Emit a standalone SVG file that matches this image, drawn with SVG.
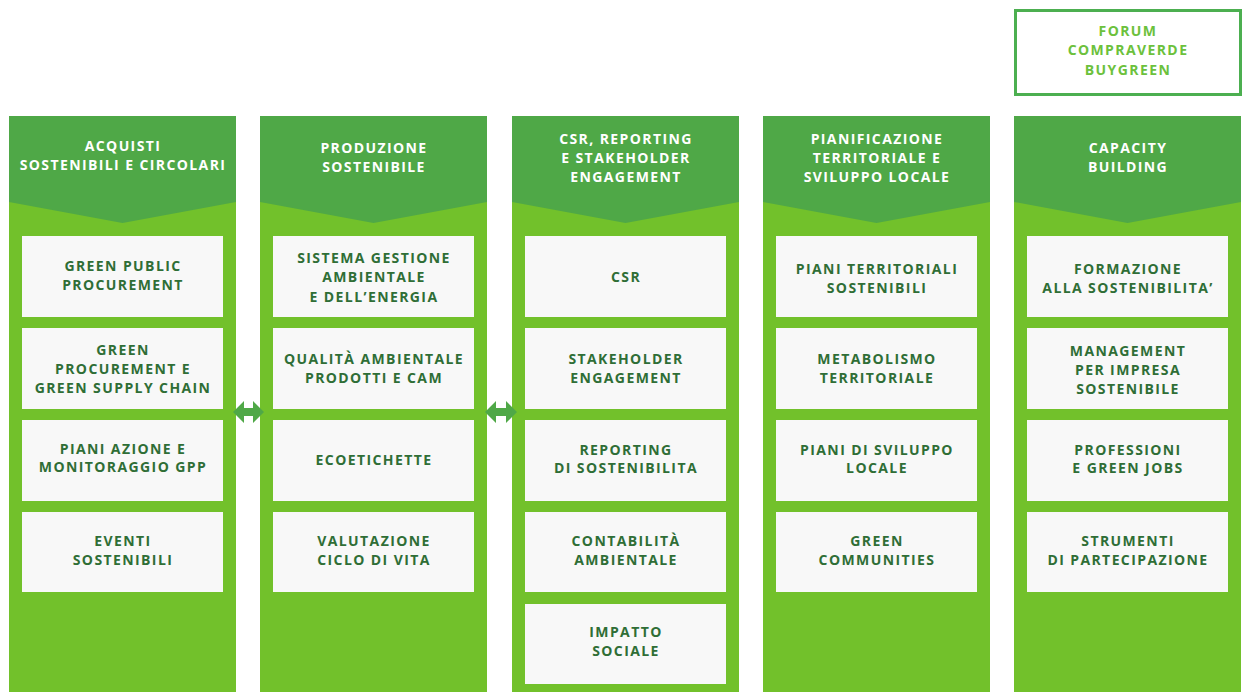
<svg xmlns="http://www.w3.org/2000/svg" width="1242" height="692" viewBox="0 0 1242 692">
<style>
.body{fill:#72c12b}
.head{fill:#4fa847}
.card{fill:#f8f8f8}
.ht{font-family:"Open Sans","Noto Sans",sans-serif;font-weight:700;font-size:14px;fill:#ffffff;text-anchor:middle;letter-spacing:1.4px}
.ct{font-family:"Open Sans","Noto Sans",sans-serif;font-weight:700;font-size:14px;fill:#2f6e36;text-anchor:middle;letter-spacing:1.4px}
.ft{font-family:"Open Sans","Noto Sans",sans-serif;font-weight:700;font-size:14px;fill:#6cc13c;text-anchor:middle;letter-spacing:1.4px}
.arr{fill:#4fa847}
</style>
<rect width="1242" height="692" fill="#ffffff"/>

<g id="forum">
<rect x="1015.5" y="10.5" width="225" height="84" fill="#ffffff" stroke="#4caf50" stroke-width="3"/>
<text class="ft" x="1128" y="36">FORUM</text>
<text class="ft" x="1128" y="55">COMPRAVERDE</text>
<text class="ft" x="1128" y="75">BUYGREEN</text>
</g>

<g id="col1">
<rect class="body" x="9" y="116" width="227" height="576"/>
<polygon class="head" points="9,116 236,116 236,202 122.5,223 9,202"/>
<text class="ht" x="123" y="151">ACQUISTI</text>
<text class="ht" x="123" y="170">SOSTENIBILI E CIRCOLARI</text>
<rect class="card" x="22" y="236" width="201" height="81"/>
<text class="ct" x="123" y="271">GREEN PUBLIC</text>
<text class="ct" x="123" y="290">PROCUREMENT</text>
<rect class="card" x="22" y="328" width="201" height="81"/>
<text class="ct" x="123" y="355">GREEN</text>
<text class="ct" x="123" y="374">PROCUREMENT E</text>
<text class="ct" x="123" y="393">GREEN SUPPLY CHAIN</text>
<rect class="card" x="22" y="420" width="201" height="81"/>
<text class="ct" x="123" y="454">PIANI AZIONE E</text>
<text class="ct" x="123" y="472">MONITORAGGIO GPP</text>
<rect class="card" x="22" y="512" width="201" height="80"/>
<text class="ct" x="123" y="546">EVENTI</text>
<text class="ct" x="123" y="565">SOSTENIBILI</text>
</g>

<g id="col2">
<rect class="body" x="260" y="116" width="227" height="576"/>
<polygon class="head" points="260,116 487,116 487,202 373.5,223 260,202"/>
<text class="ht" x="374" y="153">PRODUZIONE</text>
<text class="ht" x="374" y="172">SOSTENIBILE</text>
<rect class="card" x="273" y="236" width="201" height="81"/>
<text class="ct" x="374" y="263">SISTEMA GESTIONE</text>
<text class="ct" x="374" y="282">AMBIENTALE</text>
<text class="ct" x="374" y="302">E DELL’ENERGIA</text>
<rect class="card" x="273" y="328" width="201" height="81"/>
<text class="ct" x="374" y="364">QUALITÀ AMBIENTALE</text>
<text class="ct" x="374" y="383">PRODOTTI E CAM</text>
<rect class="card" x="273" y="420" width="201" height="81"/>
<text class="ct" x="374" y="465">ECOETICHETTE</text>
<rect class="card" x="273" y="512" width="201" height="80"/>
<text class="ct" x="374" y="546">VALUTAZIONE</text>
<text class="ct" x="374" y="565">CICLO DI VITA</text>
</g>

<g id="col3">
<rect class="body" x="512" y="116" width="227" height="576"/>
<polygon class="head" points="512,116 739,116 739,202 625.5,223 512,202"/>
<text class="ht" x="626" y="144">CSR, REPORTING</text>
<text class="ht" x="626" y="163">E STAKEHOLDER</text>
<text class="ht" x="626" y="182">ENGAGEMENT</text>
<rect class="card" x="525" y="236" width="201" height="81"/>
<text class="ct" x="626" y="282">CSR</text>
<rect class="card" x="525" y="328" width="201" height="81"/>
<text class="ct" x="626" y="364">STAKEHOLDER</text>
<text class="ct" x="626" y="383">ENGAGEMENT</text>
<rect class="card" x="525" y="420" width="201" height="81"/>
<text class="ct" x="626" y="455">REPORTING</text>
<text class="ct" x="626" y="473">DI SOSTENIBILITA</text>
<rect class="card" x="525" y="512" width="201" height="80"/>
<text class="ct" x="626" y="546">CONTABILITÀ</text>
<text class="ct" x="626" y="565">AMBIENTALE</text>
<rect class="card" x="525" y="604" width="201" height="80"/>
<text class="ct" x="626" y="637">IMPATTO</text>
<text class="ct" x="626" y="656">SOCIALE</text>
</g>

<g id="col4">
<rect class="body" x="763" y="116" width="227" height="576"/>
<polygon class="head" points="763,116 990,116 990,202 876.5,223 763,202"/>
<text class="ht" x="877" y="144">PIANIFICAZIONE</text>
<text class="ht" x="877" y="163">TERRITORIALE E</text>
<text class="ht" x="877" y="182">SVILUPPO LOCALE</text>
<rect class="card" x="776" y="236" width="201" height="81"/>
<text class="ct" x="877" y="274">PIANI TERRITORIALI</text>
<text class="ct" x="877" y="293">SOSTENIBILI</text>
<rect class="card" x="776" y="328" width="201" height="81"/>
<text class="ct" x="877" y="364">METABOLISMO</text>
<text class="ct" x="877" y="383">TERRITORIALE</text>
<rect class="card" x="776" y="420" width="201" height="81"/>
<text class="ct" x="877" y="455">PIANI DI SVILUPPO</text>
<text class="ct" x="877" y="473">LOCALE</text>
<rect class="card" x="776" y="512" width="201" height="80"/>
<text class="ct" x="877" y="546">GREEN</text>
<text class="ct" x="877" y="565">COMMUNITIES</text>
</g>

<g id="col5">
<rect class="body" x="1014" y="116" width="227" height="576"/>
<polygon class="head" points="1014,116 1241,116 1241,202 1127.5,223 1014,202"/>
<text class="ht" x="1128" y="153">CAPACITY</text>
<text class="ht" x="1128" y="172">BUILDING</text>
<rect class="card" x="1027" y="236" width="201" height="81"/>
<text class="ct" x="1128" y="274">FORMAZIONE</text>
<text class="ct" x="1128" y="293">ALLA SOSTENIBILITA’</text>
<rect class="card" x="1027" y="328" width="201" height="81"/>
<text class="ct" x="1128" y="356">MANAGEMENT</text>
<text class="ct" x="1128" y="375">PER IMPRESA</text>
<text class="ct" x="1128" y="394">SOSTENIBILE</text>
<rect class="card" x="1027" y="420" width="201" height="81"/>
<text class="ct" x="1128" y="455">PROFESSIONI</text>
<text class="ct" x="1128" y="473">E GREEN JOBS</text>
<rect class="card" x="1027" y="512" width="201" height="80"/>
<text class="ct" x="1128" y="546">STRUMENTI</text>
<text class="ct" x="1128" y="565">DI PARTECIPAZIONE</text>
</g>

<g id="connectors">
<polygon class="arr" points="233,412 244,401 244,408 253,408 253,401 264,412 253,423 253,416 244,416 244,423"/>
<polygon class="arr" points="485,412 496,401 496,408 506,408 506,401 517,412 506,423 506,416 496,416 496,423"/>
</g>
</svg>
